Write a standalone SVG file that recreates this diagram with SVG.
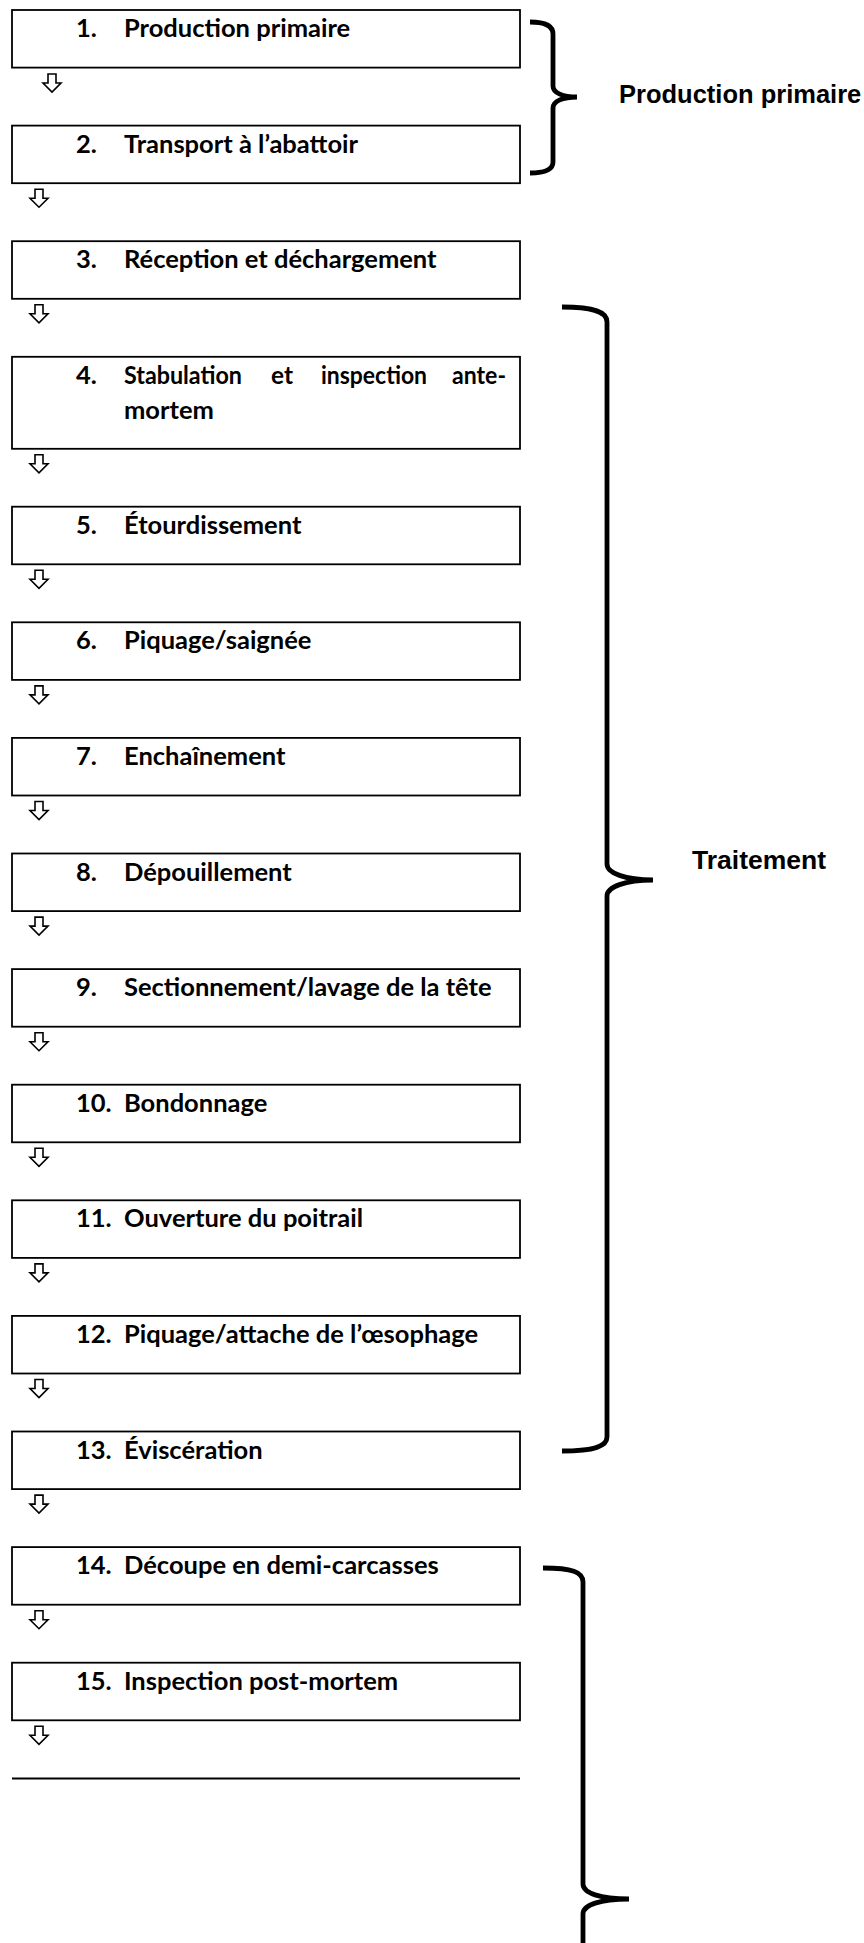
<svg xmlns="http://www.w3.org/2000/svg" xmlns:xlink="http://www.w3.org/1999/xlink" width="864" height="1943" viewBox="0 0 864 1943">
<style>
.box{fill:#fff;stroke:#000;stroke-width:1.8}
.lbl{font-family:Lato,"Open Sans","Liberation Sans",sans-serif;font-weight:700;font-size:25.5px;fill:#000}
.side{font-family:"Liberation Sans",Arial,sans-serif;font-weight:700;fill:#000}
.brace{fill:none;stroke:#000;stroke-width:4.8}
.arr{fill:#fff;stroke:#000;stroke-width:1.6;stroke-linejoin:miter}
</style>
<defs>
<polygon id="arr" points="-4,0 4,0 4,9 9,9 0,18 -9,9 -4,9"/>
</defs>
<rect width="864" height="1943" fill="#fff"/>
<g id="n1"><rect class="box" x="12" y="10" width="508" height="57.6"/><text class="lbl" x="76" y="37">1.</text><text class="lbl" x="124" y="37">Production primaire</text></g>
<g id="n2"><rect class="box" x="12" y="125.6" width="508" height="57.6"/><text class="lbl" x="76" y="152.6">2.</text><text class="lbl" x="124" y="152.6">Transport à l’abattoir</text></g>
<g id="n3"><rect class="box" x="12" y="241.2" width="508" height="57.6"/><text class="lbl" x="76" y="268.2">3.</text><text class="lbl" x="124" y="268.2">Réception et déchargement</text></g>
<g id="n4"><rect class="box" x="12" y="356.8" width="508" height="92"/><text class="lbl" x="76" y="383.8">4.</text><text class="lbl" x="124" y="383.8" textLength="118" lengthAdjust="spacingAndGlyphs">Stabulation</text><text class="lbl" x="271" y="383.8" textLength="22" lengthAdjust="spacingAndGlyphs">et</text><text class="lbl" x="321" y="383.8" textLength="106" lengthAdjust="spacingAndGlyphs">inspection</text><text class="lbl" x="452" y="383.8" textLength="54" lengthAdjust="spacingAndGlyphs">ante-</text><text class="lbl" x="124" y="418.8">mortem</text></g>
<g id="n5"><rect class="box" x="12" y="506.7" width="508" height="57.6"/><text class="lbl" x="76" y="533.7">5.</text><text class="lbl" x="124" y="533.7">Étourdissement</text></g>
<g id="n6"><rect class="box" x="12" y="622.3" width="508" height="57.6"/><text class="lbl" x="76" y="649.3">6.</text><text class="lbl" x="124" y="649.3">Piquage/saignée</text></g>
<g id="n7"><rect class="box" x="12" y="737.9" width="508" height="57.6"/><text class="lbl" x="76" y="764.9">7.</text><text class="lbl" x="124" y="764.9">Enchaînement</text></g>
<g id="n8"><rect class="box" x="12" y="853.5" width="508" height="57.6"/><text class="lbl" x="76" y="880.5">8.</text><text class="lbl" x="124" y="880.5">Dépouillement</text></g>
<g id="n9"><rect class="box" x="12" y="969.1" width="508" height="57.6"/><text class="lbl" x="76" y="996.1">9.</text><text class="lbl" x="124" y="996.1">Sectionnement/lavage de la tête</text></g>
<g id="n10"><rect class="box" x="12" y="1084.7" width="508" height="57.6"/><text class="lbl" x="76" y="1111.7">10.</text><text class="lbl" x="124" y="1111.7">Bondonnage</text></g>
<g id="n11"><rect class="box" x="12" y="1200.3" width="508" height="57.6"/><text class="lbl" x="76" y="1227.3">11.</text><text class="lbl" x="124" y="1227.3">Ouverture du poitrail</text></g>
<g id="n12"><rect class="box" x="12" y="1315.9" width="508" height="57.6"/><text class="lbl" x="76" y="1342.9">12.</text><text class="lbl" x="124" y="1342.9">Piquage/attache de l’œsophage</text></g>
<g id="n13"><rect class="box" x="12" y="1431.5" width="508" height="57.6"/><text class="lbl" x="76" y="1458.5">13.</text><text class="lbl" x="124" y="1458.5">Éviscération</text></g>
<g id="n14"><rect class="box" x="12" y="1547.1" width="508" height="57.6"/><text class="lbl" x="76" y="1574.1">14.</text><text class="lbl" x="124" y="1574.1">Découpe en demi-carcasses</text></g>
<g id="n15"><rect class="box" x="12" y="1662.7" width="508" height="57.6"/><text class="lbl" x="76" y="1689.7">15.</text><text class="lbl" x="124" y="1689.7">Inspection post-mortem</text></g>
<g id="n16"><line x1="12" y1="1778.5" x2="520" y2="1778.5" stroke="#000" stroke-width="1.8"/></g>
<g id="connectors">
<use href="#arr" class="arr" x="52" y="74"/>
<use href="#arr" class="arr" x="39" y="189.2"/>
<use href="#arr" class="arr" x="39" y="304.8"/>
<use href="#arr" class="arr" x="39" y="454.8"/>
<use href="#arr" class="arr" x="39" y="570.3"/>
<use href="#arr" class="arr" x="39" y="685.9"/>
<use href="#arr" class="arr" x="39" y="801.5"/>
<use href="#arr" class="arr" x="39" y="917.1"/>
<use href="#arr" class="arr" x="39" y="1032.7"/>
<use href="#arr" class="arr" x="39" y="1148.3"/>
<use href="#arr" class="arr" x="39" y="1263.9"/>
<use href="#arr" class="arr" x="39" y="1379.5"/>
<use href="#arr" class="arr" x="39" y="1495.1"/>
<use href="#arr" class="arr" x="39" y="1610.7"/>
<use href="#arr" class="arr" x="39" y="1726.3"/>
</g>
<g id="brace-production">
<path class="brace" d="M530,22 C546,22 553,26 553,34 L553,86 C553,93 563,97 577,97 C563,97 553,101 553,108 L553,162 C553,169 546,173 530,173"/>
<text class="side" x="619" y="103" font-size="25.5">Production primaire</text>
</g>
<g id="brace-traitement">
<path class="brace" d="M562,307 C595,307 607,312 607,322 L607,864 C607,873 625,880 653,880 C625,880 607,887 607,896 L607,1437 C607,1446 595,1451 562,1451"/>
<text class="side" x="692" y="869" font-size="26.5">Traitement</text>
</g>
<g id="brace-3">
<path class="brace" d="M543,1568 C572,1568 583,1572 583,1582 L583,1884 C583,1893 600,1899 629,1899 C600,1899 583,1905 583,1914 L583,1950"/>
</g>
</svg>
